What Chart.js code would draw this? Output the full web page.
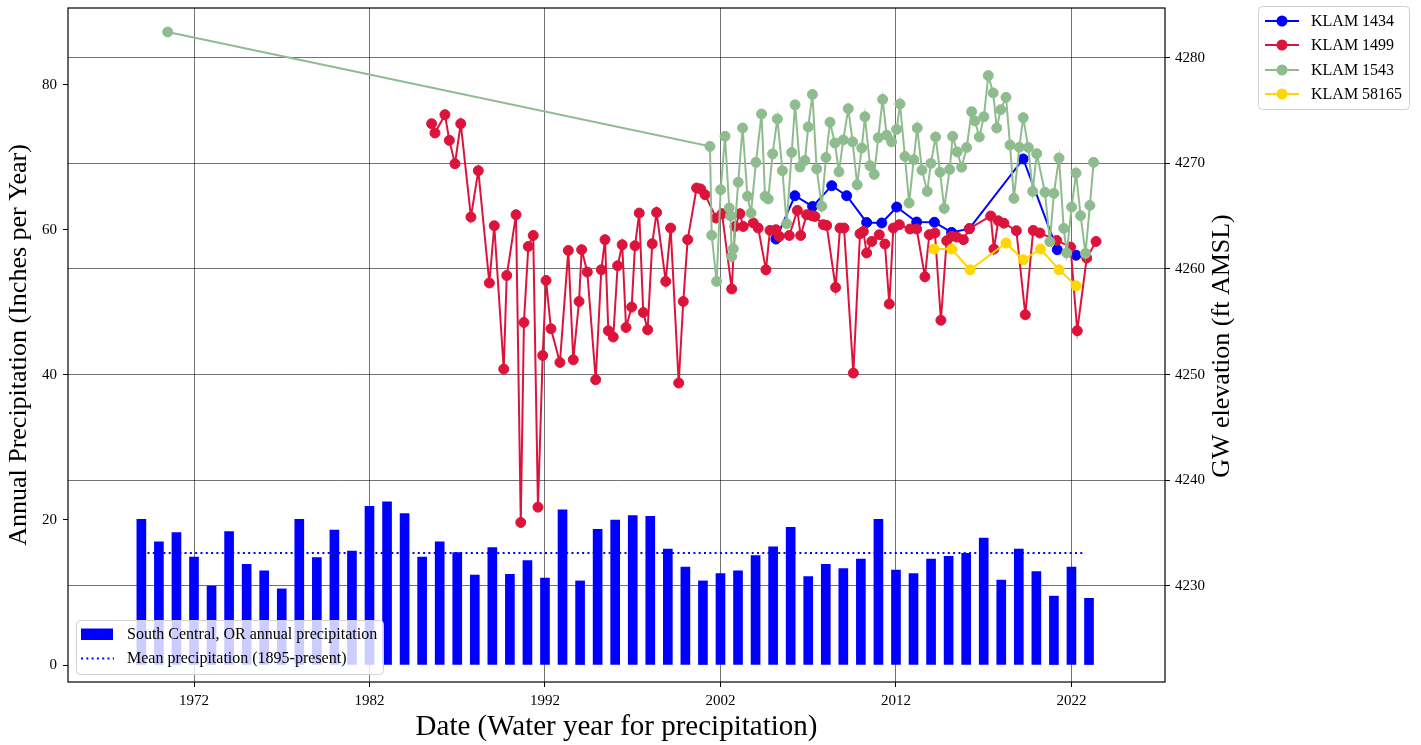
<!DOCTYPE html>
<html><head><meta charset="utf-8">
<script src="https://cdn.jsdelivr.net/npm/chart.js@4"></script>
<style>html,body{margin:0;padding:0;background:#fff;}#c{display:block;}</style>
</head><body>
<canvas id="c" width="1421" height="745"></canvas>
<script>
// ---- Data ----
const precipYears = [1969,1970,1971,1972,1973,1974,1975,1976,1977,1978,1979,1980,1981,1982,1983,1984,1985,1986,1987,1988,1989,1990,1991,1992,1993,1994,1995,1996,1997,1998,1999,2000,2001,2002,2003,2004,2005,2006,2007,2008,2009,2010,2011,2012,2013,2014,2015,2016,2017,2018,2019,2020,2021,2022,2023];
const precip = [20.1,17.0,18.25,14.9,10.9,18.4,13.9,13.0,10.5,20.1,14.8,18.6,15.7,21.9,22.5,20.9,14.9,17.0,15.5,12.4,16.2,12.5,14.4,12.0,21.4,11.6,18.7,20.0,20.6,20.5,16.0,13.5,11.6,12.6,13.0,15.1,16.3,19.0,12.2,13.9,13.3,14.6,20.1,13.1,12.6,14.6,15.0,15.4,17.5,11.7,16.0,12.9,9.5,13.5,9.2];
const meanPrecip = 15.45;
const meanSpan = [1969.35, 2022.75];

const klam1434Dates = [2005.16,2006.24,2007.25,2008.34,2009.19,2010.33,2011.19,2012.04,2013.18,2014.19,2015.17,2016.18,2019.25,2021.19,2022.26];
const klam1434Elev = [4262.83,4266.93,4265.92,4267.88,4266.93,4264.40,4264.35,4265.86,4264.44,4264.42,4263.46,4263.81,4270.41,4261.82,4261.30];

const klam1499Dates = [1985.54,1985.73,1986.30,1986.55,1986.87,1987.20,1987.78,1988.20,1988.83,1989.11,
1989.65,1989.82,1990.35,1990.62,1990.80,1991.05,1991.33,1991.60,1991.87,1992.06,
1992.34,1992.85,1993.33,1993.61,1993.94,1994.09,1994.41,1994.89,1995.21,1995.42,
1995.61,1995.89,1996.14,1996.40,1996.62,1996.94,1997.13,1997.37,1997.60,1997.85,
1998.11,1998.36,1998.88,1999.16,1999.62,1999.88,2000.13,2000.64,2000.87,2001.12,
2001.75,2002.09,2002.64,2002.83,2003.11,2003.30,2003.87,2004.15,2004.59,2004.82,
2005.16,2005.35,2005.92,2006.38,2006.57,2006.91,2007.20,2007.38,2007.86,2008.05,
2008.56,2008.81,2009.04,2009.57,2009.95,2010.14,2010.33,2010.62,2011.05,2011.37,
2011.62,2011.85,2012.19,2012.80,2013.18,2013.65,2013.90,2014.22,2014.56,2014.89,
2015.17,2015.46,2015.84,2016.18,2017.40,2017.58,2017.83,2018.15,2018.86,2019.37,
2019.82,2020.20,2021.16,2021.95,2022.33,2022.87,2023.40];
const klam1499Elev = [4273.75,4272.87,4274.60,4272.17,4269.96,4273.75,4264.91,4269.30,4258.67,4264.09,
4250.52,4259.38,4265.13,4236.00,4254.93,4262.13,4263.17,4237.45,4251.81,4258.91,
4254.34,4251.15,4261.75,4251.40,4256.92,4261.82,4259.71,4249.51,4259.92,4262.77,
4254.15,4253.55,4260.30,4262.29,4254.46,4256.39,4262.20,4265.29,4255.88,4254.24,
4262.39,4265.35,4258.82,4263.87,4249.20,4256.92,4262.77,4267.66,4267.57,4267.03,
4264.82,4265.23,4258.10,4264.02,4265.23,4264.02,4264.35,4263.87,4259.92,4263.65,
4263.71,4263.08,4263.17,4265.54,4263.17,4265.13,4265.04,4264.97,4264.19,4264.12,
4258.25,4263.87,4263.87,4250.14,4263.33,4263.55,4261.51,4262.60,4263.24,4262.36,
4256.68,4263.87,4264.19,4263.78,4263.78,4259.26,4263.24,4263.40,4255.14,4262.67,
4263.10,4263.02,4262.77,4263.81,4265.01,4261.88,4264.56,4264.33,4263.62,4255.66,
4263.65,4263.40,4262.70,4262.07,4254.15,4261.03,4262.60];

const klam1543Dates = [1970.50,2001.40,2001.50,2001.78,2002.01,2002.26,2002.50,2002.57,2002.64,2002.73,
2003.01,2003.26,2003.54,2003.74,2004.02,2004.34,2004.54,2004.72,2004.97,2005.24,
2005.53,2005.77,2006.06,2006.25,2006.53,2006.81,2007.00,2007.24,2007.48,2007.77,
2008.01,2008.24,2008.52,2008.75,2009.00,2009.28,2009.53,2009.79,2010.05,2010.23,
2010.52,2010.76,2010.99,2011.24,2011.47,2011.75,2012.04,2012.23,2012.51,2012.75,
2013.01,2013.21,2013.48,2013.78,2013.99,2014.26,2014.51,2014.75,2015.06,2015.23,
2015.49,2015.74,2016.03,2016.31,2016.50,2016.75,2017.01,2017.26,2017.54,2017.74,
2017.97,2018.27,2018.50,2018.72,2019.03,2019.25,2019.54,2019.79,2020.02,2020.49,
2020.77,2021.00,2021.29,2021.56,2021.73,2022.01,2022.26,2022.52,2022.80,2023.05,2023.26];
const klam1543Elev = [4282.43,4271.60,4263.19,4258.82,4267.50,4272.55,4265.77,4265.04,4261.18,4261.91,
4268.21,4273.34,4266.88,4265.29,4270.09,4274.67,4266.87,4266.62,4270.89,4274.20,
4269.30,4264.28,4271.03,4275.53,4269.65,4270.27,4273.44,4276.52,4269.47,4265.94,
4270.55,4273.89,4271.92,4269.20,4272.21,4275.17,4272.03,4267.97,4271.45,4274.41,
4269.77,4268.95,4272.42,4276.05,4272.66,4272.03,4273.21,4275.62,4270.65,4266.24,
4270.34,4273.34,4269.35,4267.34,4269.99,4272.49,4269.16,4265.73,4269.42,4272.55,
4271.08,4269.63,4271.50,4274.89,4274.01,4272.49,4274.41,4278.30,4276.66,4273.34,
4275.08,4276.24,4271.73,4266.68,4271.52,4274.32,4271.50,4267.34,4270.91,4267.26,
4262.58,4267.15,4270.50,4263.84,4261.51,4265.86,4269.08,4265.04,4261.47,4266.01,4270.09];

const klam58165Dates = [2014.17,2015.17,2016.22,2018.27,2019.25,2020.24,2021.29,2022.26];
const klam58165Elev = [4261.88,4261.88,4259.92,4262.45,4260.87,4261.88,4259.92,4258.41];

const xTickYears = [1972,1982,1992,2002,2012,2022];
const leftTicks = [0,20,40,60,80];
const rightTicks = [4230,4240,4250,4260,4270,4280];

// ---- Helpers ----
const SERIF = '"Liberation Serif", "Times New Roman", serif';
function pts(xs, ys){ return xs.map((x,i)=>({x:x, y:ys[i]})); }
const C_BLUE = '#0000ff', C_RED = '#dc143c', C_GREEN = '#8fbc8f', C_GOLD = '#ffd700';
const wells = [
  {label:'KLAM 1434', color:C_BLUE},
  {label:'KLAM 1499', color:C_RED},
  {label:'KLAM 1543', color:C_GREEN},
  {label:'KLAM 58165', color:C_GOLD}
];

function rr(ctx, x, y, w, h, r){
  ctx.beginPath();
  ctx.moveTo(x+r,y); ctx.lineTo(x+w-r,y); ctx.arcTo(x+w,y,x+w,y+r,r);
  ctx.lineTo(x+w,y+h-r); ctx.arcTo(x+w,y+h,x+w-r,y+h,r);
  ctx.lineTo(x+r,y+h); ctx.arcTo(x,y+h,x,y+h-r,r);
  ctx.lineTo(x,y+r); ctx.arcTo(x,y,x+r,y,r); ctx.closePath();
}

const decorPlugin = {
  id:'decor',
  afterDatasetsDraw(chart){
    const {ctx, chartArea:a} = chart;
    ctx.save();
    // frame
    ctx.strokeStyle = '#000'; ctx.lineWidth = 1.2;
    ctx.strokeRect(a.left, a.top, a.right-a.left, a.bottom-a.top);
    // lower-left legend
    rr(ctx, 76.5, 620.5, 307, 54, 4);
    ctx.fillStyle = 'rgba(255,255,255,0.8)'; ctx.fill();
    ctx.strokeStyle = '#d0d0d0'; ctx.lineWidth = 1; ctx.stroke();
    ctx.fillStyle = C_BLUE; ctx.fillRect(81, 628.5, 32, 11.5);
    ctx.strokeStyle = C_BLUE; ctx.lineWidth = 2; ctx.setLineDash([2,3.3]);
    ctx.beginPath(); ctx.moveTo(81, 658.5); ctx.lineTo(114, 658.5); ctx.stroke();
    ctx.setLineDash([]);
    ctx.fillStyle = '#000'; ctx.font = '16px ' + SERIF; ctx.textBaseline = 'middle'; ctx.textAlign = 'left';
    ctx.fillText('South Central, OR annual precipitation', 127, 635);
    ctx.fillText('Mean precipitation (1895-present)', 127, 659);
    ctx.restore();
  },
  afterDraw(chart){
    const ctx = chart.ctx;
    ctx.save();
    // right axis title
    ctx.translate(1222, 346); ctx.rotate(-Math.PI/2);
    ctx.fillStyle = '#000'; ctx.font = '26px ' + SERIF; ctx.textAlign = 'center'; ctx.textBaseline = 'middle';
    ctx.fillText('GW elevation (ft AMSL)', 0, 0);
    ctx.restore();
    ctx.save();
    // top-right legend
    rr(ctx, 1258.5, 6.5, 151, 103, 4);
    ctx.fillStyle = 'rgba(255,255,255,0.8)'; ctx.fill();
    ctx.strokeStyle = '#d0d0d0'; ctx.lineWidth = 1; ctx.stroke();
    const rows = [21, 45, 70, 94];
    ctx.font = '16px ' + SERIF; ctx.textBaseline = 'middle'; ctx.textAlign = 'left';
    wells.forEach((w,i)=>{
      const y = rows[i];
      ctx.strokeStyle = w.color; ctx.lineWidth = 2;
      ctx.beginPath(); ctx.moveTo(1265, y); ctx.lineTo(1299, y); ctx.stroke();
      ctx.fillStyle = w.color; ctx.beginPath(); ctx.arc(1282, y, 5.5, 0, Math.PI*2); ctx.fill();
      ctx.fillStyle = '#000'; ctx.fillText(w.label, 1311, y+1);
    });
    ctx.restore();
  }
};

function lineDs(label, xs, ys, color, order){
  return {type:'line', label:label, data:pts(xs, ys), yAxisID:'y2', borderColor:color, backgroundColor:color,
    borderWidth:2, pointRadius:5, pointBorderWidth:1, pointBackgroundColor:color, pointBorderColor:color,
    tension:0, fill:false, order:order};
}

new Chart(document.getElementById('c').getContext('2d'), {
  type:'bar',
  data:{datasets:[
    lineDs('KLAM 58165', klam58165Dates, klam58165Elev, C_GOLD, 1),
    lineDs('KLAM 1543', klam1543Dates, klam1543Elev, C_GREEN, 2),
    lineDs('KLAM 1499', klam1499Dates, klam1499Elev, C_RED, 3),
    lineDs('KLAM 1434', klam1434Dates, klam1434Elev, C_BLUE, 4),
    {type:'line', label:'Mean precipitation (1895-present)', data:[{x:meanSpan[0],y:meanPrecip},{x:meanSpan[1],y:meanPrecip}],
      yAxisID:'y', borderColor:C_BLUE, borderWidth:2, borderDash:[2,3.3], pointRadius:0, fill:false, order:5},
    {type:'bar', label:'South Central, OR annual precipitation', data:pts(precipYears, precip), yAxisID:'y',
      backgroundColor:C_BLUE, borderWidth:0, barThickness:9, order:6}
  ]},
  options:{
    responsive:false, animation:false, devicePixelRatio:1,
    layout:{padding:{top:8, right:186, bottom:0, left:0}},
    plugins:{legend:{display:false}, tooltip:{enabled:false}},
    scales:{
      x:{type:'linear', position:'bottom', min:1964.82, max:2027.33, offset:false,
        afterBuildTicks(s){ s.ticks = xTickYears.map(v=>({value:v})); },
        afterFit(s){ s.height = 63; s.paddingLeft = 0; s.paddingRight = 0; },
        ticks:{callback:v=>String(v), font:{family:SERIF, size:15}, color:'#000', padding:5, maxRotation:0, autoSkip:false},
        grid:{offset:false, color:'rgba(0,0,0,0.55)', lineWidth:1, tickColor:'#000', tickLength:5, drawTicks:true},
        border:{display:false},
        title:{display:true, text:'Date (Water year for precipitation)', font:{family:SERIF, size:29}, color:'#000', padding:{top:0, bottom:0}}
      },
      y:{type:'linear', position:'left', min:-2.34, max:90.6,
        afterBuildTicks(s){ s.ticks = leftTicks.map(v=>({value:v})); },
        afterFit(s){ s.width = 68; s.paddingTop = 0; s.paddingBottom = 0; },
        ticks:{callback:v=>String(v), font:{family:SERIF, size:15}, color:'#000', padding:6},
        grid:{drawOnChartArea:false, color:'#000', tickColor:'#000', tickLength:5, drawTicks:true},
        border:{display:false},
        title:{display:true, text:'Annual Precipitation (Inches per Year)', font:{family:SERIF, size:26}, color:'#000', padding:{top:4, bottom:0}}
      },
      y2:{type:'linear', position:'right', min:4220.9, max:4284.7,
        afterBuildTicks(s){ s.ticks = rightTicks.map(v=>({value:v})); },
        afterFit(s){ s.width = 70; s.paddingTop = 0; s.paddingBottom = 0; },
        ticks:{callback:v=>String(v), font:{family:SERIF, size:15}, color:'#000', padding:5},
        grid:{drawOnChartArea:true, color:'rgba(0,0,0,0.55)', lineWidth:1, tickColor:'#000', tickLength:5, drawTicks:true},
        border:{display:false}
      }
    }
  },
  plugins:[decorPlugin]
});
</script>
</body></html>
